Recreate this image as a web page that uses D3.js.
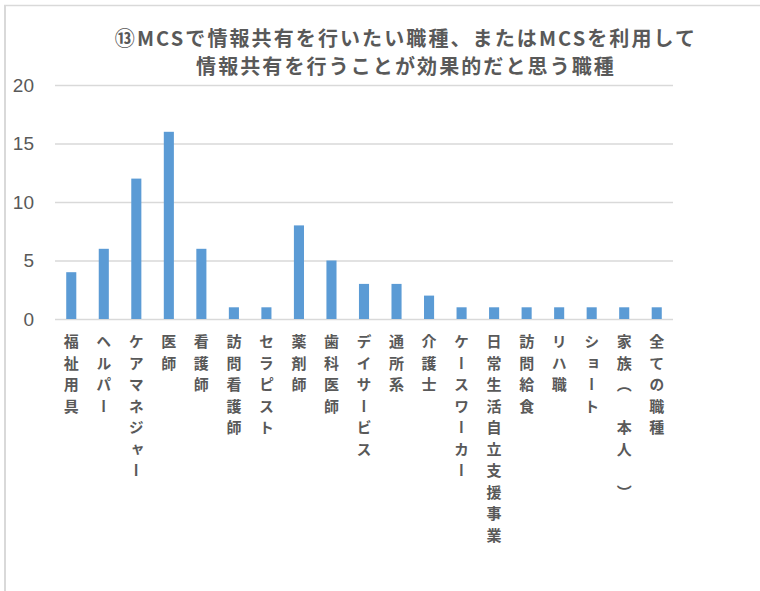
<!DOCTYPE html>
<html>
<head>
<meta charset="utf-8">
<script src="https://cdn.jsdelivr.net/npm/d3@7"></script>
<style>
  body { margin: 0; background: #fff; }
  svg { display: block; font-family: "Noto Sans CJK JP", "Noto Sans", sans-serif; }
</style>
</head>
<body>
<div id="chart"></div>
<script>
// 職種カテゴリ
const categories = [
    "福祉用具", "ヘルパー", "ケアマネジャー", "医師", "看護師", "訪問看護師",
    "セラピスト", "薬剤師", "歯科医師", "デイサービス", "通所系", "介護士",
    "ケースワーカー", "日常生活自立支援事業", "訪問給食", "リハ職", "ショート",
    "家族（　本人　）", "全ての職種"
];
// 回答数
const counts = [4, 6, 12, 16, 6, 1, 1, 8, 5, 3, 3, 2, 1, 1, 1, 1, 1, 1, 1];
const yTicks = [0, 5, 10, 15, 20];
const titleLines = [
    "⑬MCSで情報共有を行いたい職種、またはMCSを利用して",
    "情報共有を行うことが効果的だと思う職種"
];

const width = 760, height = 591;
const plot = { left: 55, right: 673, top: 85, bottom: 319 };

const svg = d3.select("#chart").append("svg")
    .attr("width", width)
    .attr("height", height);

// 枠線（上と左のみ見える）
svg.append("line").attr("x1", 4).attr("x2", width).attr("y1", 5.5).attr("y2", 5.5)
    .attr("stroke", "#d9d9d9").attr("stroke-width", 1.5);
svg.append("line").attr("x1", 5).attr("x2", 5).attr("y1", 5).attr("y2", height)
    .attr("stroke", "#d9d9d9").attr("stroke-width", 2);

// タイトル
svg.append("g").selectAll("text")
    .data(titleLines)
    .enter().append("text")
    .attr("x", 406)
    .attr("y", (d, i) => 46 + i * 28)
    .attr("text-anchor", "middle")
    .attr("font-size", 20)
    .attr("font-weight", "bold")
    .attr("letter-spacing", 2.1)
    .attr("fill", "#595959")
    .text(d => d);

const x = d3.scaleBand()
    .domain(categories)
    .range([plot.left, plot.right])
    .paddingInner(0.69)
    .paddingOuter(0.345);

const y = d3.scaleLinear()
    .domain([0, 20])
    .range([plot.bottom, plot.top]);

// グリッド線
svg.append("g")
    .call(d3.axisLeft(y).tickValues(yTicks).tickSize(-(plot.right - plot.left)).tickFormat(""))
    .attr("transform", `translate(${plot.left},0)`)
    .call(g => g.select(".domain").remove())
    .call(g => g.selectAll(".tick line").attr("stroke", "#d9d9d9").attr("stroke-width", 1.5));

// Y軸ラベル
svg.append("g").selectAll("text")
    .data(yTicks)
    .enter().append("text")
    .attr("x", 34)
    .attr("y", d => y(d))
    .attr("dy", "0.36em")
    .attr("text-anchor", "end")
    .attr("font-size", 19)
    .attr("fill", "#595959")
    .attr("font-family", "Liberation Sans, Arial, sans-serif")
    .text(d => d);

// 棒
svg.append("g").selectAll("rect")
    .data(counts)
    .enter().append("rect")
    .attr("x", (d, i) => x(categories[i]))
    .attr("y", d => y(d))
    .attr("width", x.bandwidth())
    .attr("height", d => y(0) - y(d))
    .attr("fill", "#5b9bd5");

// 縦書きカテゴリラベル
svg.append("g").selectAll("text")
    .data(categories)
    .enter().append("text")
    .attr("x", d => x(d) + x.bandwidth() / 2)
    .attr("y", 334)
    .style("writing-mode", "vertical-rl")
    .attr("font-size", 15)
    .attr("font-weight", "bold")
    .attr("letter-spacing", 6.5)
    .attr("fill", "#595959")
    .text(d => d);
</script>
</body>
</html>
